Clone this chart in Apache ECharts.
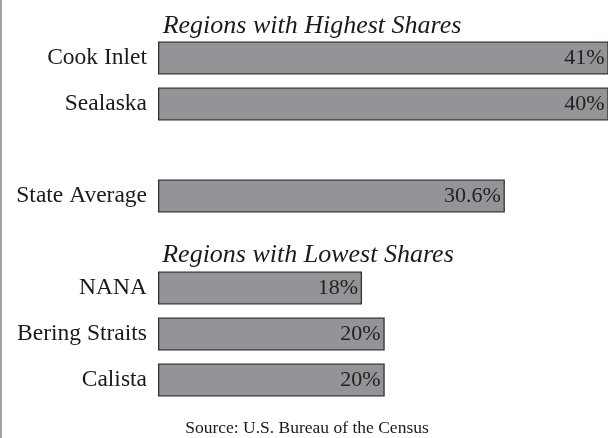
<!DOCTYPE html>
<html>
<head>
<meta charset="utf-8">
<script src="https://cdn.jsdelivr.net/npm/echarts@6/dist/echarts.min.js"></script>
<style>
html, body { margin: 0; padding: 0; background: #fff; }
#main { width: 608px; height: 438px; }
</style>
</head>
<body>
<div id="main"></div>
<script>
// empty strings are spacer rows (gap / section title)
var categories = ['Cook Inlet', 'Sealaska', '', 'State Average', '', 'NANA', 'Bering Straits', 'Calista'];
var shares = [41, 40, null, 30.6, null, 18, 20, 20];
var shareLabels = ['41%', '40%', '', '30.6%', '', '18%', '20%', '20%'];

var serif = '"Liberation Serif", "DejaVu Serif", serif';

var myChart = echarts.init(document.getElementById('main'));
var option = {
    backgroundColor: '#fff',
    animation: false,
    grid: { left: 158, right: 0, top: 35, bottom: 35 },
    xAxis: {
        type: 'value',
        min: 0,
        max: 39.7,
        show: false
    },
    yAxis: {
        type: 'category',
        data: categories,
        inverse: true,
        axisLine: { show: false },
        axisTick: { show: false },
        splitLine: { show: false },
        axisLabel: {
            margin: 11,
            color: '#1a1a1a',
            fontFamily: serif,
            fontSize: 23.5,
            padding: [3, 0, 0, 0]
        }
    },
    series: [{
        type: 'bar',
        data: shares,
        barWidth: 33,
        clip: true,
        itemStyle: {
            color: '#939497',
            borderColor: '#333',
            borderWidth: 1.3
        },
        label: {
            show: true,
            position: 'insideRight',
            distance: 4,
            color: '#222',
            fontFamily: serif,
            fontSize: 22,
            formatter: function (p) { return shareLabels[p.dataIndex]; }
        }
    }],
    graphic: [
        {
            type: 'rect',
            shape: { x: 0, y: 0, width: 2, height: 438 },
            style: { fill: '#a3a3a3' }
        },
        {
            type: 'text',
            x: 312, y: 26,
            style: {
                text: 'Regions with Highest Shares',
                font: 'italic 26px ' + serif,
                fill: '#1a1a1a',
                align: 'center',
                verticalAlign: 'middle'
            }
        },
        {
            type: 'text',
            x: 308, y: 255,
            style: {
                text: 'Regions with Lowest Shares',
                font: 'italic 26px ' + serif,
                fill: '#1a1a1a',
                align: 'center',
                verticalAlign: 'middle'
            }
        },
        {
            type: 'text',
            x: 307, y: 428,
            style: {
                text: 'Source: U.S. Bureau of the Census',
                font: '17.5px ' + serif,
                fill: '#1a1a1a',
                align: 'center',
                verticalAlign: 'middle'
            }
        }
    ]
};
myChart.setOption(option);
</script>
</body>
</html>
